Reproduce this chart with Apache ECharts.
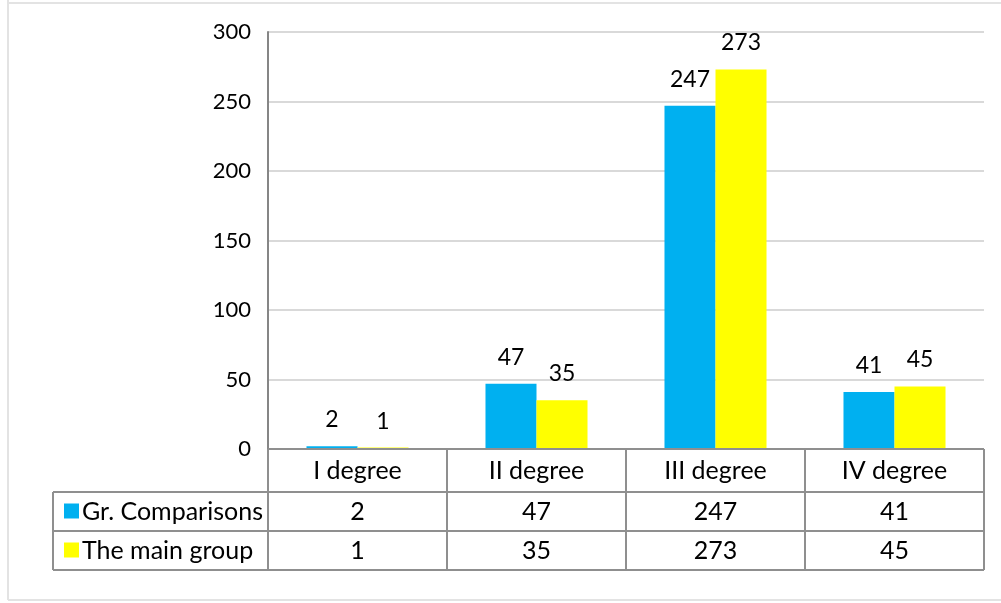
<!DOCTYPE html>
<html><head><meta charset="utf-8">
<script src="https://cdn.jsdelivr.net/npm/echarts@6/dist/echarts.min.js"></script>
<style>html,body{margin:0;padding:0;background:#fff}#c{width:1001px;height:603px}</style>
</head><body><div id="c"></div>
<script>
const categories = ['I degree', 'II degree', 'III degree', 'IV degree'];
const seriesNames = ['Gr. Comparisons', 'The main group'];
const comparisons = [2, 47, 247, 41];
const mainGroup = [1, 35, 273, 45];
const seriesColors = ['#00B0F0', '#FFFF00'];
const yMin = 0, yMax = 300, yStep = 50;

const FONT = 'Lato';
const chart = echarts.init(document.getElementById('c'), null, {renderer: 'canvas'});
const labelStyle = {show: true, position: 'top', distance: 15, color: '#000', fontFamily: FONT, fontSize: 23};
chart.setOption({
  animation: false,
  backgroundColor: '#fff',
  grid: {left: 268, right: 17, top: 32, bottom: 154},
  xAxis: {
    type: 'category', data: categories,
    axisLine: {show: false}, axisTick: {show: false}, axisLabel: {show: false}
  },
  yAxis: {
    type: 'value', min: yMin, max: yMax, interval: yStep,
    axisLine: {show: true, lineStyle: {color: '#868686', width: 2}},
    axisTick: {show: false},
    axisLabel: {color: '#000', fontFamily: FONT, fontSize: 22, margin: 17},
    splitLine: {lineStyle: {color: '#d9d9d9', width: 2}}
  },
  series: [
    {name: seriesNames[0], type: 'bar', data: comparisons, barGap: '0%', barCategoryGap: '43%',
     itemStyle: {color: seriesColors[0]}, label: labelStyle},
    {name: seriesNames[1], type: 'bar', data: mainGroup,
     itemStyle: {color: seriesColors[1]}, label: labelStyle}
  ]
});

// Build data table under the plot from the arrays, using axis geometry
const x0 = chart.convertToPixel({xAxisIndex: 0}, 0);
const x1 = chart.convertToPixel({xAxisIndex: 0}, 1);
const band = x1 - x0;
const left = x0 - band / 2;
const right = left + band * categories.length;
const yZero = chart.convertToPixel({yAxisIndex: 0}, 0);
const headH = 43, rowH = 39;
const tableLeft = 53;
const lineColor = '#8f8f8f';
const els = [];
const line = (xa, ya, xb, yb) => els.push({type: 'line', shape: {x1: xa, y1: ya, x2: xb, y2: yb}, style: {stroke: lineColor, lineWidth: 2}, z: 10});
const text = (x, y, t, align) => els.push({type: 'text', x: x, y: y, style: {text: t, fill: '#000', font: '25px ' + FONT, textAlign: align || 'center', textVerticalAlign: 'middle'}, z: 11});

const rowsTop = yZero + headH;
const bottom = rowsTop + rowH * 2;
line(left, yZero, right, yZero);
line(tableLeft, rowsTop, right, rowsTop);
line(tableLeft, rowsTop + rowH, right, rowsTop + rowH);
line(tableLeft, bottom, right, bottom);
line(tableLeft, rowsTop, tableLeft, bottom);
for (let i = 0; i <= categories.length; i++) line(left + band * i, yZero, left + band * i, bottom);
categories.forEach((c, i) => text(left + band * (i + 0.5), yZero + headH / 2, c));
const rows = [comparisons, mainGroup];
rows.forEach((vals, r) => {
  const cy = rowsTop + rowH * (r + 0.5);
  els.push({type: 'rect', shape: {x: tableLeft + 11, y: cy - 8, width: 15, height: 15}, style: {fill: seriesColors[r]}, z: 11});
  text(tableLeft + 29, cy, seriesNames[r], 'left');
  vals.forEach((v, i) => text(left + band * (i + 0.5), cy, String(v)));
});
els.push({type: 'line', shape: {x1: 8, y1: 0, x2: 8, y2: 600}, style: {stroke: '#e3e3e3', lineWidth: 2}, z: 1});
els.push({type: 'line', shape: {x1: 8, y1: 600, x2: 1001, y2: 600}, style: {stroke: '#e3e3e3', lineWidth: 2}, z: 1});
els.push({type: 'line', shape: {x1: 8, y1: 3, x2: 1001, y2: 3}, style: {stroke: '#e3e3e3', lineWidth: 2}, z: 1});
chart.setOption({graphic: {elements: els}});
</script>
</body></html>
